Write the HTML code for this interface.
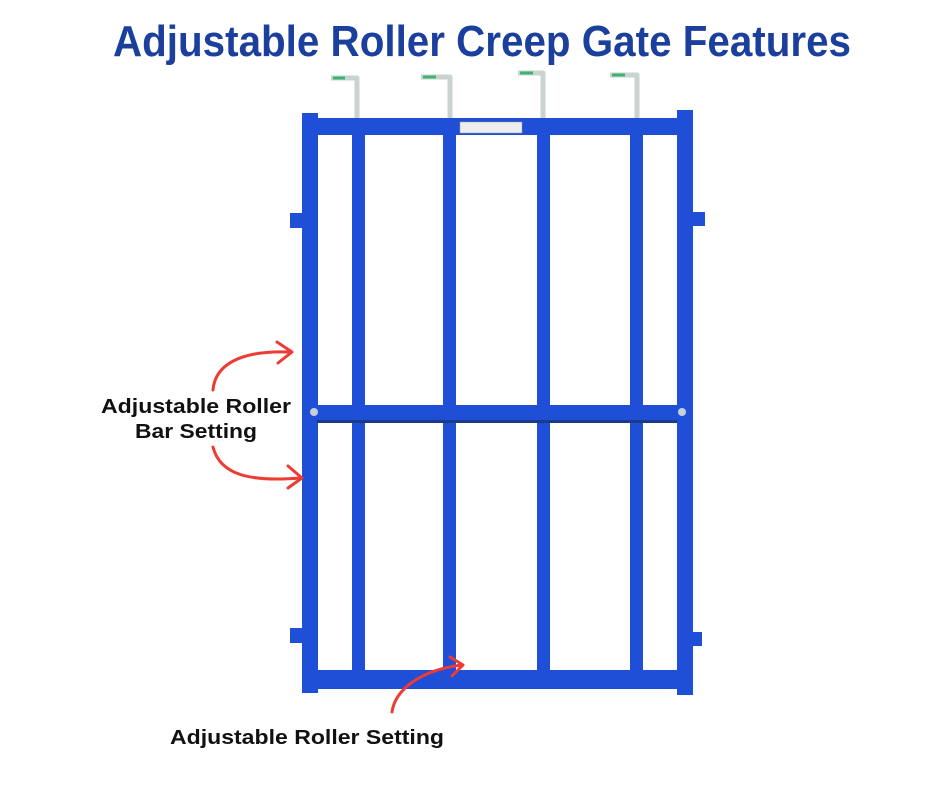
<!DOCTYPE html>
<html><head><meta charset="utf-8"><style>
html,body{margin:0;padding:0;background:#fff;}
svg{display:block;}
text{font-family:"Liberation Sans",sans-serif;font-weight:bold;}
</style></head><body>
<svg width="940" height="788" viewBox="0 0 940 788" xmlns="http://www.w3.org/2000/svg">
<rect width="940" height="788" fill="#fff"/>
<text x="482" y="56" font-size="44" fill="#1b3f9c" text-anchor="middle" textLength="738" lengthAdjust="spacingAndGlyphs">Adjustable Roller Creep Gate Features</text>

<!-- hooks -->
<g fill="none" stroke="#c9d3cf" stroke-width="5" stroke-linejoin="round">
<path d="M357 120 V78 H331"/>
<path d="M450 120 V77 H421"/>
<path d="M543 120 V73 H518"/>
<path d="M637 120 V75 H610"/>
</g>
<g stroke="#3cb371" stroke-width="3">
<line x1="333" y1="78" x2="345" y2="78"/>
<line x1="423" y1="77" x2="436" y2="77"/>
<line x1="520" y1="73" x2="533" y2="73"/>
<line x1="612" y1="75" x2="625" y2="75"/>
</g>

<g fill="#1f4fd6">
<rect x="352" y="135" width="13" height="537"/>
<rect x="443" y="135" width="13" height="537"/>
<rect x="537" y="135" width="13" height="537"/>
<rect x="630" y="135" width="13" height="537"/>
<rect x="302" y="113" width="16" height="580"/>
<rect x="677" y="110" width="16" height="585"/>
<rect x="317" y="118" width="360" height="17"/>
<rect x="317" y="670" width="360" height="19"/>
<rect x="290" y="213" width="13" height="15"/>
<rect x="692" y="212" width="13" height="14"/>
<rect x="290" y="628" width="13" height="15"/>
<rect x="692" y="632" width="10" height="14"/>
<rect x="310" y="405" width="380" height="16" rx="6"/>
</g>
<rect x="317" y="420" width="360" height="3" fill="#1a3a8c"/>
<rect x="460" y="122" width="62" height="11" fill="#eeeeee" stroke="#999" stroke-width="0.5"/>
<circle cx="314" cy="412" r="4" fill="#c8d0d8"/>
<circle cx="682" cy="412" r="4" fill="#c8d0d8"/>

<text x="196" y="413" font-size="20" fill="#111" text-anchor="middle" textLength="190" lengthAdjust="spacingAndGlyphs">Adjustable Roller</text>
<text x="196" y="438" font-size="20" fill="#111" text-anchor="middle" textLength="122" lengthAdjust="spacingAndGlyphs">Bar Setting</text>
<text x="307" y="744" font-size="20" fill="#111" text-anchor="middle" textLength="274" lengthAdjust="spacingAndGlyphs">Adjustable Roller Setting</text>

<g fill="none" stroke="#ee3b33" stroke-width="3" stroke-linecap="round" stroke-linejoin="round">
<path d="M213 390 C215 365 240 350 290 352"/>
<path d="M277 342 L292 352 L278 363"/>
<path d="M213 447 C220 475 250 482 300 478"/>
<path d="M288 466 L302 478 L288 488"/>
<path d="M392 712 C395 690 420 670 462 665"/>
<path d="M450 657 L463 665 L452 676"/>
</g>
</svg>
</body></html>
